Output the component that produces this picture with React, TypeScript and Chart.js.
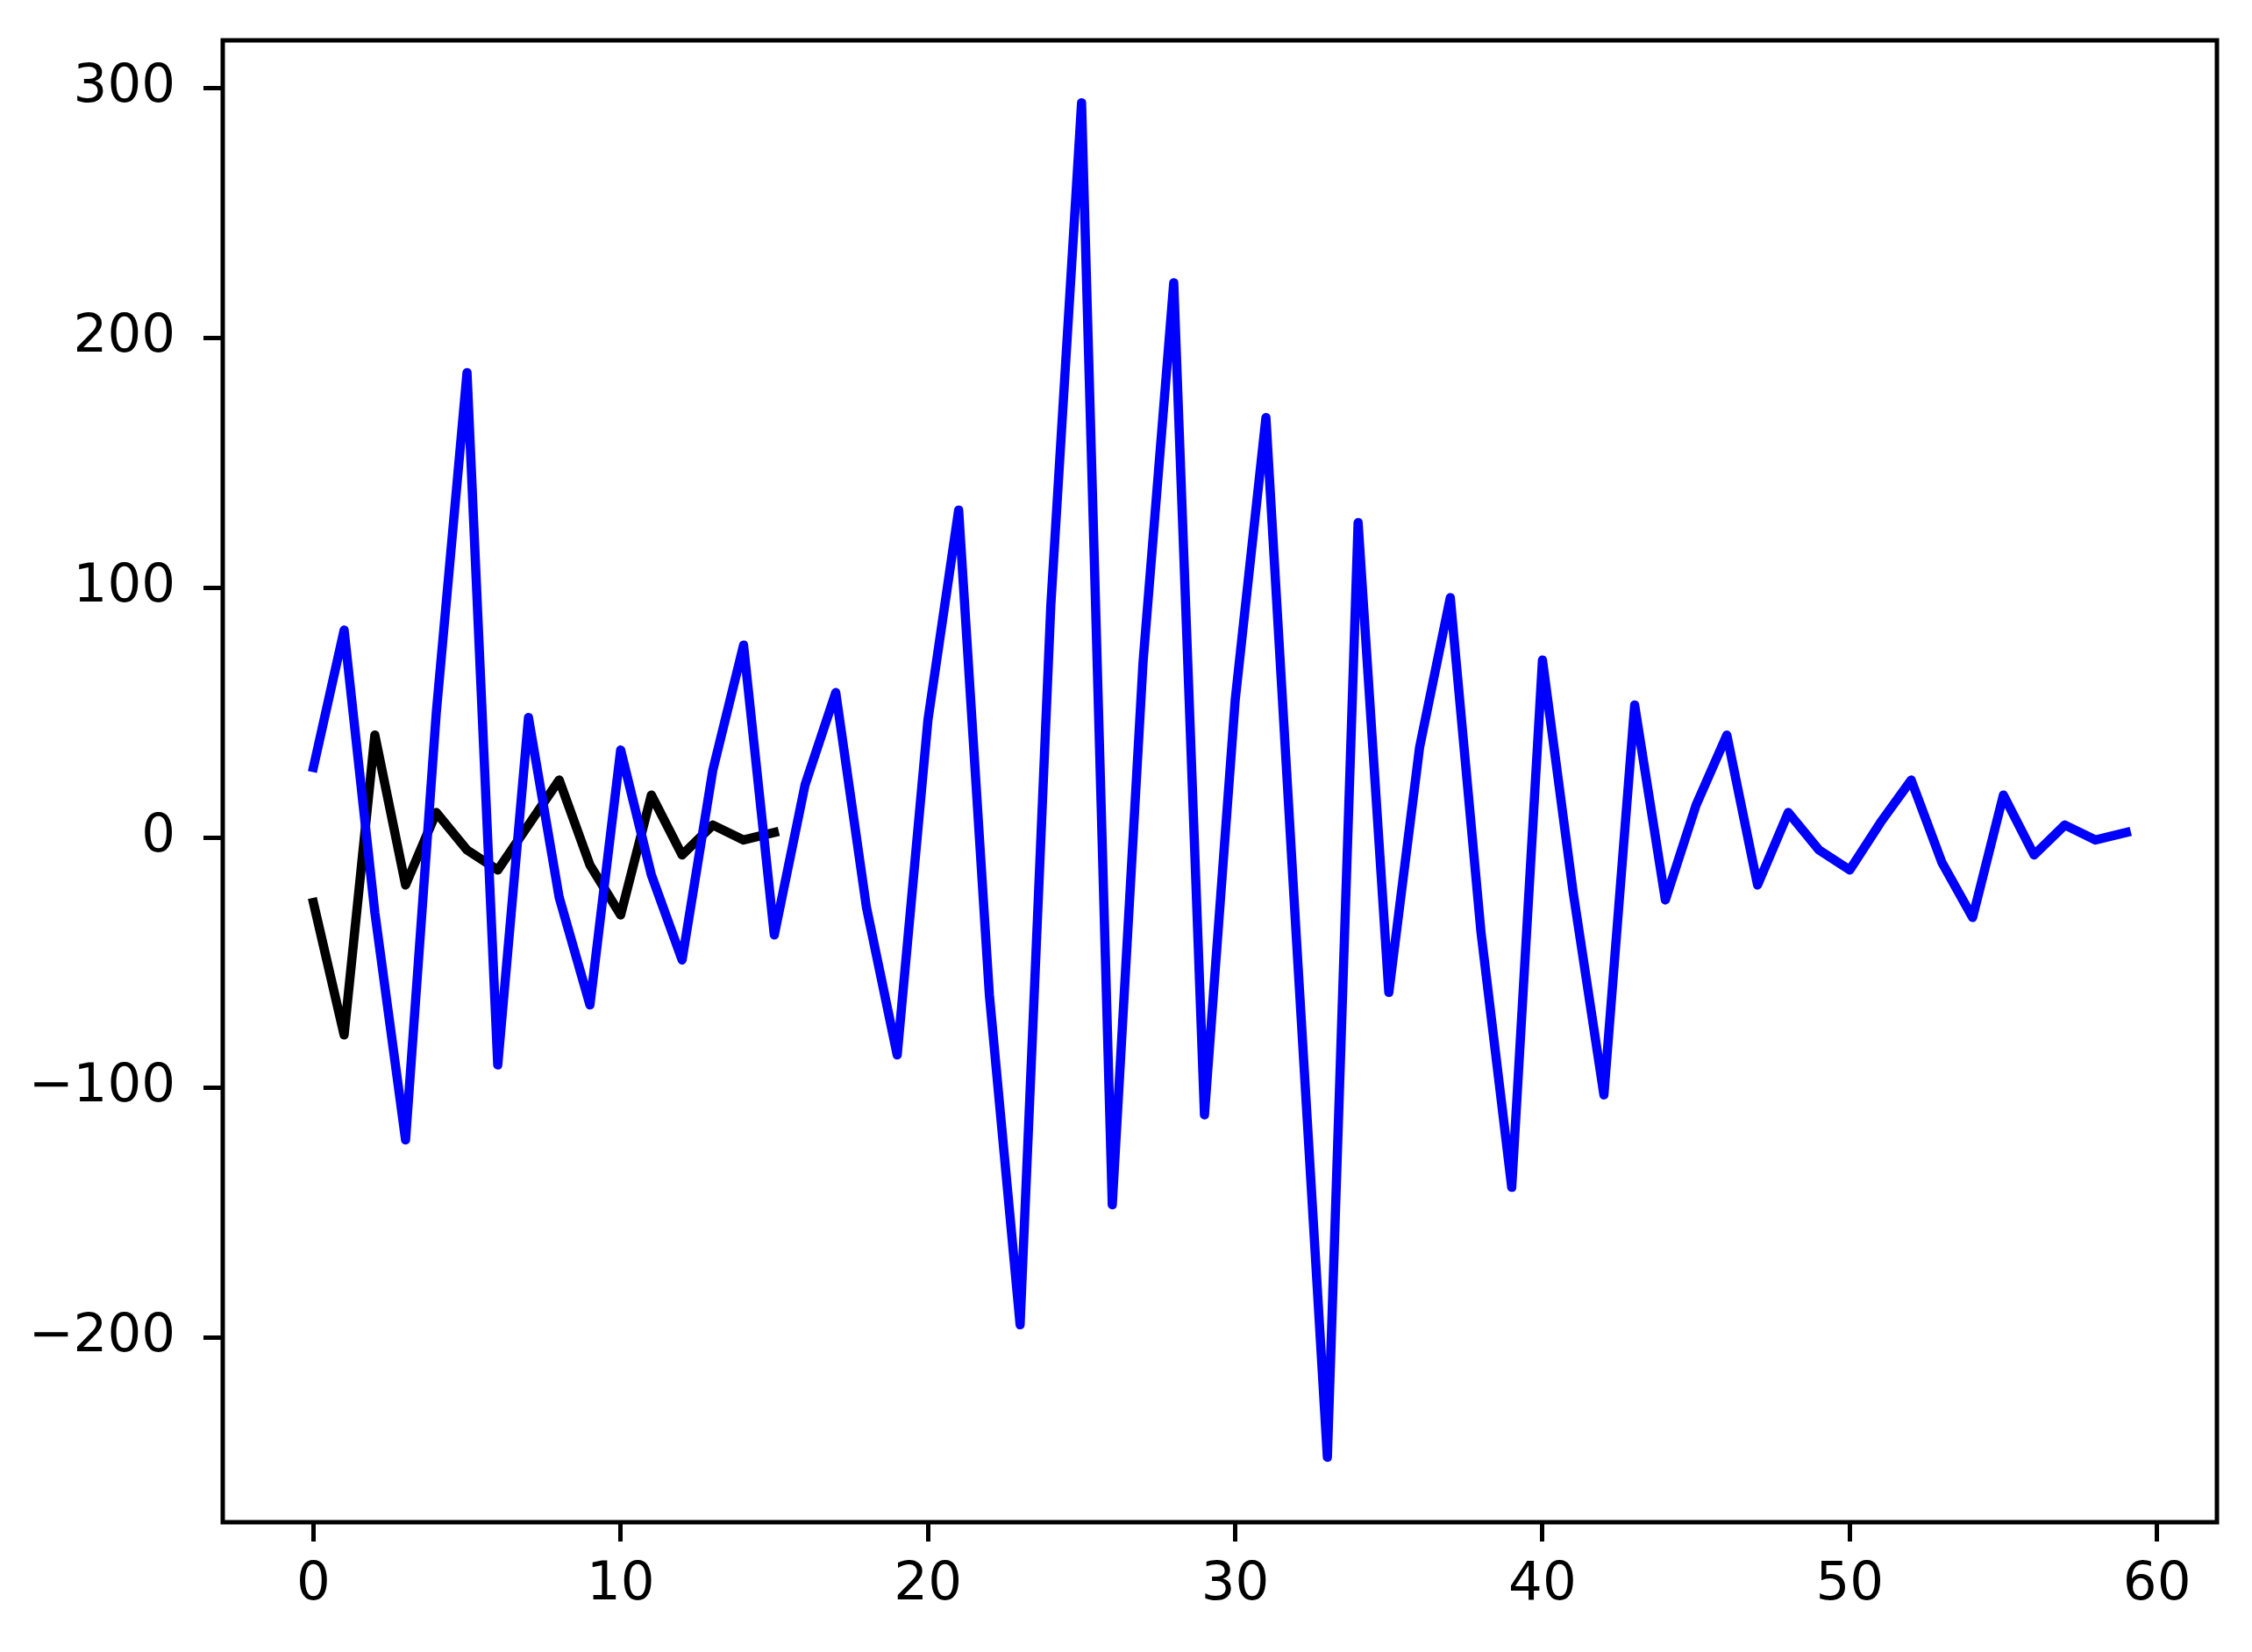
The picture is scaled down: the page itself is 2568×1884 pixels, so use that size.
import React, { useEffect, useRef } from "react";
import { Chart, registerables } from "chart.js";

Chart.register(...registerables);

const blueValues = [
  28, 83, -30, -121, 50, 186, -91, 48, -24, -67,
  35, -15, -49, 27, 77, -39, 21, 58, -28, -87,
  47, 131, -63, -195, 93, 294, -147, 70, 222, -111,
  55, 168, -42, -248, 126, -62, 36, 96, -38, -140,
  71, -22, -103, 53, -25, 13, 41, -19, 10, -5,
  -13, 6, 23, -10, -32, 17, -7, 5, -1, 2,
];

const blackValues = [
  -26, -79, 41, -19, 10, -5, -13, 5, 23, -11,
  -31, 17, -7, 5, -1, 2,
];

const xTicks = [0, 10, 20, 30, 40, 50, 60];
const yTicks = [-200, -100, 0, 100, 200, 300];

const W = 2568;
const H = 1884;

const framePlugin = {
  id: "frame",
  afterDatasetsDraw(chart: any) {
    const { ctx, chartArea } = chart;
    ctx.save();
    ctx.strokeStyle = "#000000";
    ctx.lineWidth = 5;
    ctx.strokeRect(
      chartArea.left,
      chartArea.top,
      chartArea.right - chartArea.left,
      chartArea.bottom - chartArea.top
    );
    ctx.restore();
  },
};

export default function App() {
  const ref = useRef<HTMLCanvasElement | null>(null);

  useEffect(() => {
    document.body.style.margin = "0";
    const canvas = ref.current;
    if (!canvas) return;
    const font = { family: "'DejaVu Sans'", size: 61 };
    const fmt = (v: number) => (v < 0 ? "\u2212" + Math.abs(v) : String(v));
    const lineStyle = {
      borderWidth: 10.5,
      pointRadius: 0,
      fill: false,
      tension: 0,
      borderJoinStyle: "round",
      borderCapStyle: "square",
    };
    const chart = new Chart(canvas, {
      type: "line",
      data: {
        datasets: [
          {
            data: blueValues.map((y, i) => ({ x: i, y })),
            borderColor: "#0000ff",
            ...lineStyle,
          },
          {
            data: blackValues.map((y, i) => ({ x: i, y })),
            borderColor: "#000000",
            ...lineStyle,
          },
        ],
      },
      options: {
        animation: false,
        responsive: false,
        devicePixelRatio: 1,
        layout: { padding: { top: 46, right: 40, left: 0, bottom: 0 } },
        plugins: {
          legend: { display: false },
          tooltip: { enabled: false },
        },
        scales: {
          x: {
            type: "linear",
            min: -2.95,
            max: 61.95,
            afterFit: (s: any) => {
              s.height = 148;
              s.paddingLeft = 0;
              s.paddingRight = 0;
            },
            afterBuildTicks: (s: any) => {
              s.ticks = xTicks.map((v) => ({ value: v }));
            },
            grid: {
              display: true,
              drawOnChartArea: false,
              drawTicks: true,
              tickLength: 22,
              tickWidth: 5,
              tickColor: "#000000",
            },
            border: { display: false },
            ticks: {
              font,
              color: "#000000",
              padding: 14,
              maxRotation: 0,
              autoSkip: false,
              callback: (v: any) => fmt(Number(v)),
            },
          },
          y: {
            type: "linear",
            min: -274,
            max: 319,
            afterFit: (s: any) => {
              s.width = 254;
              s.paddingTop = 0;
              s.paddingBottom = 0;
            },
            afterBuildTicks: (s: any) => {
              s.ticks = yTicks.map((v) => ({ value: v }));
            },
            grid: {
              display: true,
              drawOnChartArea: false,
              drawTicks: true,
              tickLength: 22,
              tickWidth: 5,
              tickColor: "#000000",
            },
            border: { display: false },
            ticks: {
              font,
              color: "#000000",
              padding: 32,
              autoSkip: false,
              callback: (v: any) => fmt(Number(v)),
            },
          },
        },
      },
      plugins: [framePlugin],
    } as any);
    return () => chart.destroy();
  }, []);

  return (
    <div style={{ position: "absolute", left: 0, top: 0, width: W, height: H, background: "#ffffff" }}>
      <canvas ref={ref} width={W} height={H} style={{ width: W, height: H, display: "block" }} />
    </div>
  );
}
